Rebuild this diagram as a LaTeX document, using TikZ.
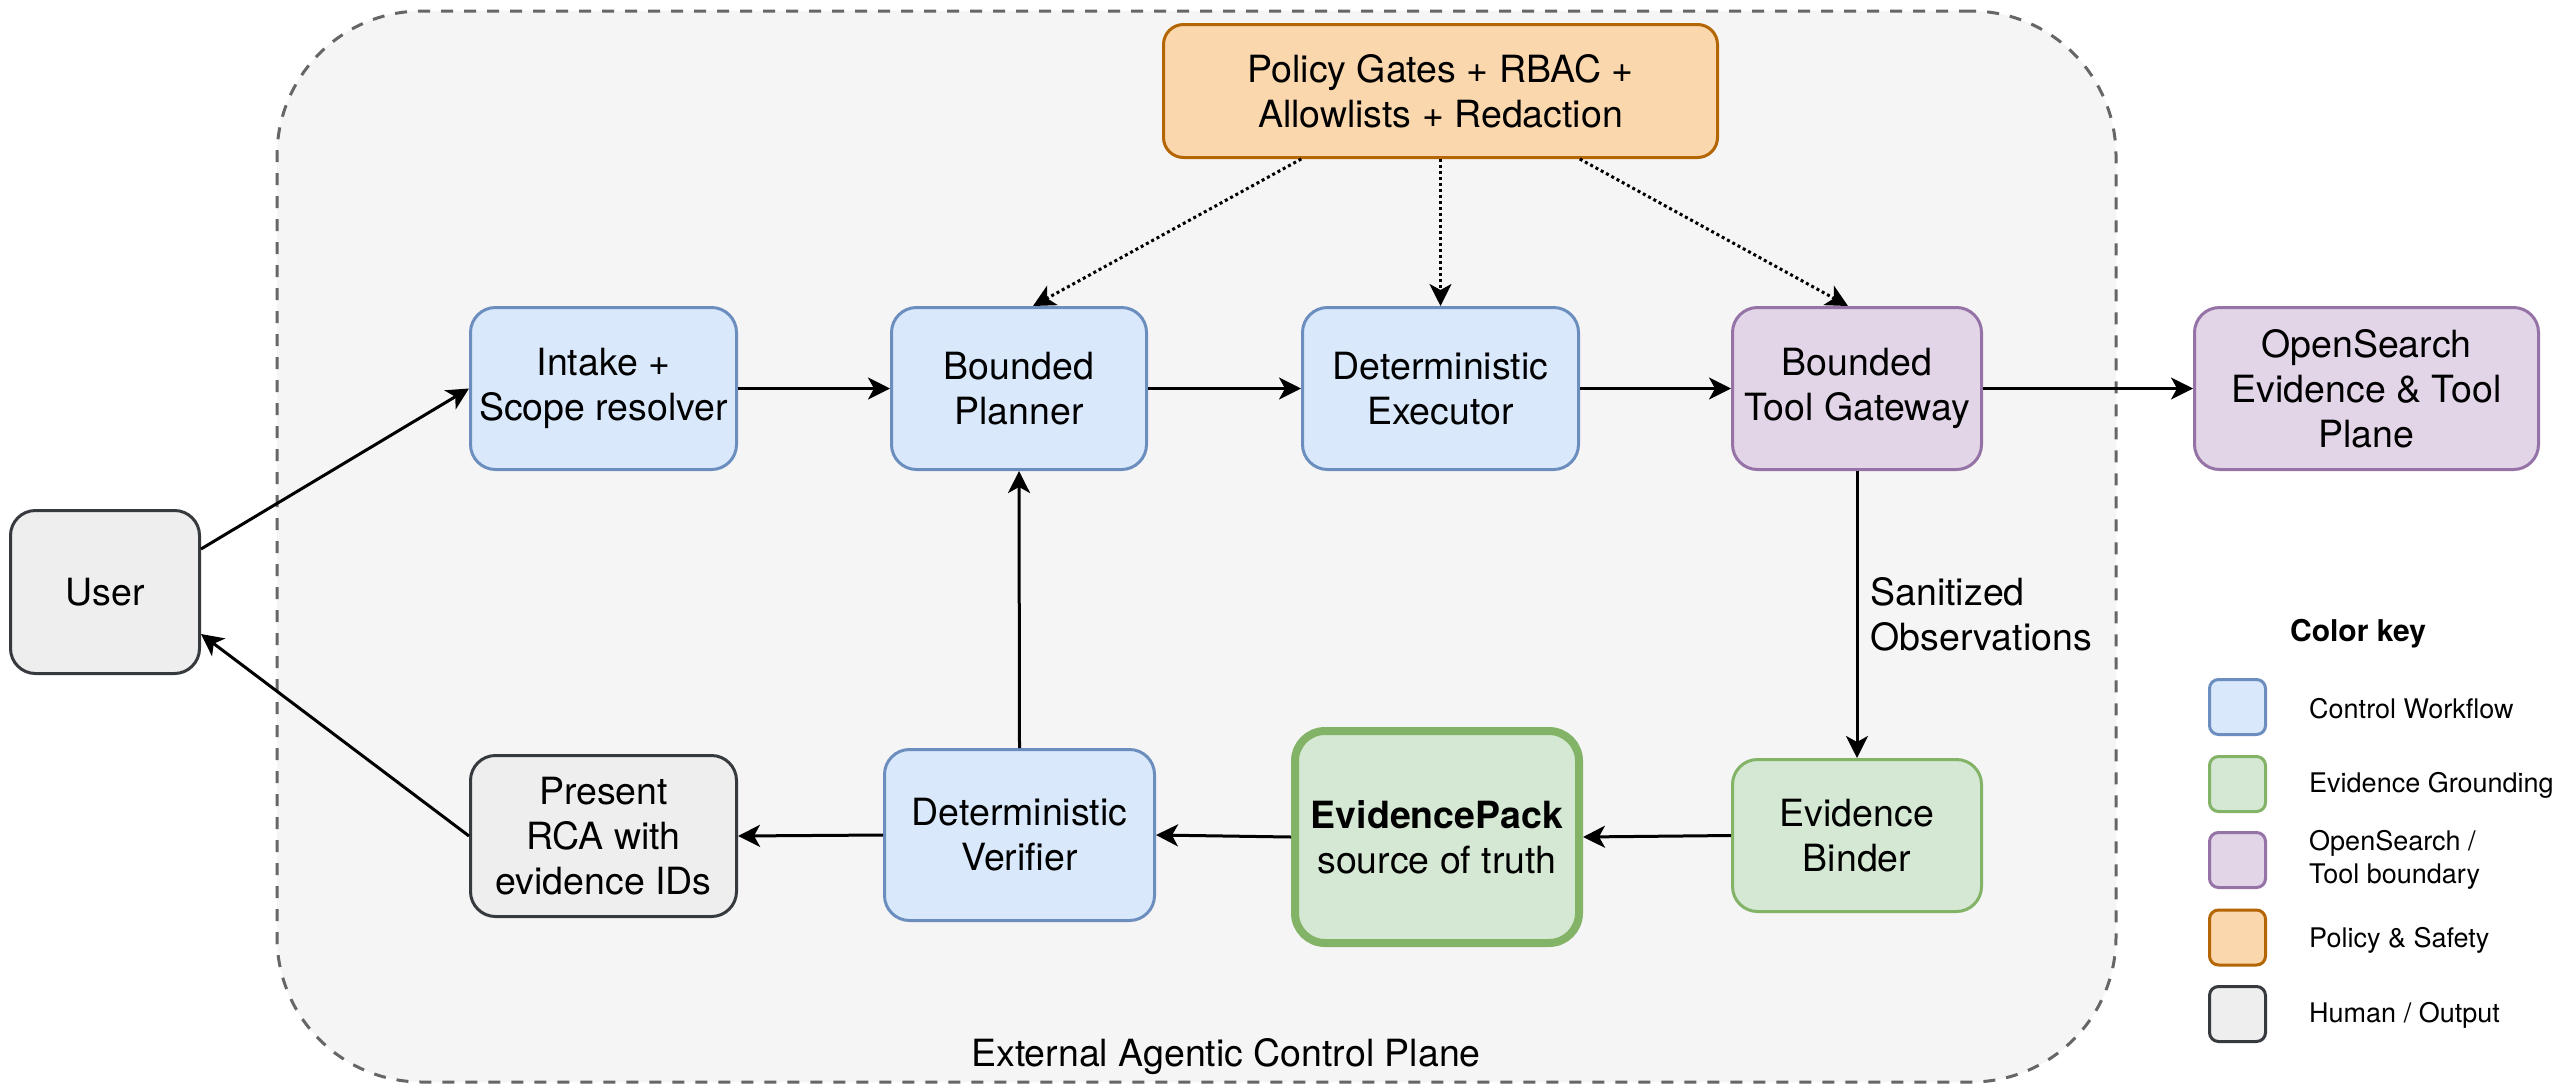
\documentclass[tikz,border=0pt]{standalone}
\usepackage{fontspec}
\setmainfont{TeX Gyre Heros}
\usetikzlibrary{arrows.meta,calc}

\definecolor{ctrlFill}{HTML}{DAE8FC}\definecolor{ctrlLine}{HTML}{6C8EBF}
\definecolor{evFill}{HTML}{D5E8D4}\definecolor{evLine}{HTML}{82B366}
\definecolor{osFill}{HTML}{E1D5E7}\definecolor{osLine}{HTML}{9673A6}
\definecolor{polFill}{HTML}{FAD7AC}\definecolor{polLine}{HTML}{B46504}
\definecolor{humFill}{HTML}{EEEEEE}\definecolor{humLine}{HTML}{36393D}
\definecolor{planeFill}{HTML}{F5F5F5}\definecolor{planeLine}{HTML}{666666}

\newcommand{\mainfs}{\fontsize{37.5}{45}\selectfont}
\newcommand{\keyfs}{\fontsize{27}{33}\selectfont}
\newcommand{\keytitlefs}{\fontsize{30}{36}\selectfont\bfseries}

\begin{document}
\begin{tikzpicture}[x=1pt,y=-1pt,
  box/.style={draw, rounded corners=25pt, line width=3pt, inner sep=0pt,
              align=center, font=\mainfs, text=black},
  ctrl/.style={box, fill=ctrlFill, draw=ctrlLine},
  evid/.style={box, fill=evFill, draw=evLine},
  osb/.style={box, fill=osFill, draw=osLine},
  pol/.style={box, fill=polFill, draw=polLine, rounded corners=20pt},
  hum/.style={box, fill=humFill, draw=humLine},
  keybox/.style={draw, rounded corners=9pt, line width=3pt, inner sep=0pt,
                 minimum width=56pt, minimum height=55pt},
  keytext/.style={anchor=west, align=left, font=\keyfs, inner sep=0pt},
  flow/.style={-{Stealth[length=22pt,width=22pt,inset=6pt]}, line width=3pt},
  gatearrow/.style={flow, dash pattern=on 3pt off 3pt},
]
\useasboundingbox (0,0) rectangle (2552,1085);
\fill[white] (0,0) rectangle (2552,1085);

% agentic control plane container
\node[draw=planeLine, fill=planeFill, line width=3pt, dash pattern=on 12pt off 11pt,
      rounded corners=145pt, minimum width=1839pt, minimum height=1071pt, inner sep=0pt]
      (plane) at (1196.5,546.5) {};
\node[font=\mainfs, inner sep=0pt] (planelabel) at (1226,1057) {External Agentic Control Plane};

% policy
\node[pol, minimum width=554pt, minimum height=133pt] (policy) at (1440.5,91) {Policy Gates + RBAC +\\Allowlists + Redaction};

% upper row
\node[ctrl, minimum width=266pt, minimum height=162pt] (intake) at (603.5,388.5) {Intake +\\Scope resolver};
\node[ctrl, minimum width=255pt, minimum height=162pt] (planner) at (1019,388.5) {Bounded\\Planner};
\node[ctrl, minimum width=276pt, minimum height=162pt] (executor) at (1440.5,388.5) {Deterministic\\Executor};
\node[osb, minimum width=249pt, minimum height=162pt] (gateway) at (1857,388.5) {Bounded\\Tool Gateway};
\node[osb, minimum width=344pt, minimum height=162pt] (opensearch) at (2366.5,388.5) {OpenSearch\\Evidence \& Tool\\Plane};

% user
\node[hum, minimum width=189pt, minimum height=163pt] (user) at (105,592) {User};

% lower row
\node[hum, minimum width=266pt, minimum height=161pt] (present) at (603.5,836) {Present\\RCA with\\evidence IDs};
\node[ctrl, minimum width=270pt, minimum height=171pt] (verifier) at (1019.5,835) {Deterministic\\Verifier};
\node[evid, line width=8pt, rounded corners=30pt, minimum width=284pt, minimum height=212pt] (pack) at (1437,837) {\textbf{EvidencePack}\\source of truth};
\node[evid, minimum width=249pt, minimum height=152pt] (binder) at (1857,835.5) {Evidence\\Binder};

% connectors
\draw[flow] ($(user.east)+(0,-43)$) -- (intake.west);
\draw[flow] (intake.east) -- (planner.west);
\draw[flow] (planner.east) -- (executor.west);
\draw[flow] (executor.east) -- (gateway.west);
\draw[flow] (gateway.east) -- (opensearch.west);
\draw[flow] (gateway.south) -- node[right=12pt, align=left, font=\mainfs, inner sep=0pt] {Sanitized\\Observations} (binder.north);
\draw[flow] (binder.west) -- (pack.east);
\draw[flow] (pack.west) -- (verifier.east);
\draw[flow] (verifier.west) -- (present.east);
\draw[flow] (verifier.north) -- (planner.south);
\draw[flow] (present.west) -- ($(user.east)+(0,42)$);

% policy enforcement
\draw[gatearrow] ($(policy.south west)!0.25!(policy.south east)$) -- ($(planner.north)+(14,0)$);
\draw[gatearrow] (policy.south) -- (executor.north);
\draw[gatearrow] ($(policy.south west)!0.75!(policy.south east)$) -- ($(gateway.north)+(-9,0)$);

% color key
\node[font=\keytitlefs, inner sep=0pt] (keytitle) at (2358,634) {Color key};
\node[keybox, fill=ctrlFill, draw=ctrlLine] (k1) at (2237.5,707) {};
\node[keybox, fill=evFill, draw=evLine] (k2) at (2237.5,784) {};
\node[keybox, fill=osFill, draw=osLine] (k3) at (2237.5,860) {};
\node[keybox, fill=polFill, draw=polLine] (k4) at (2237.5,937.5) {};
\node[keybox, fill=humFill, draw=humLine] (k5) at (2237.5,1014) {};
\node[keytext] (t1) at (2309,709) {Control Workflow};
\node[keytext] (t2) at (2309,785) {Evidence Grounding};
\node[keytext] (t3) at (2309,860) {OpenSearch /\\Tool boundary};
\node[keytext] (t4) at (2309,940) {Policy \& Safety};
\node[keytext] (t5) at (2309,1015) {Human / Output};
\end{tikzpicture}
\end{document}
